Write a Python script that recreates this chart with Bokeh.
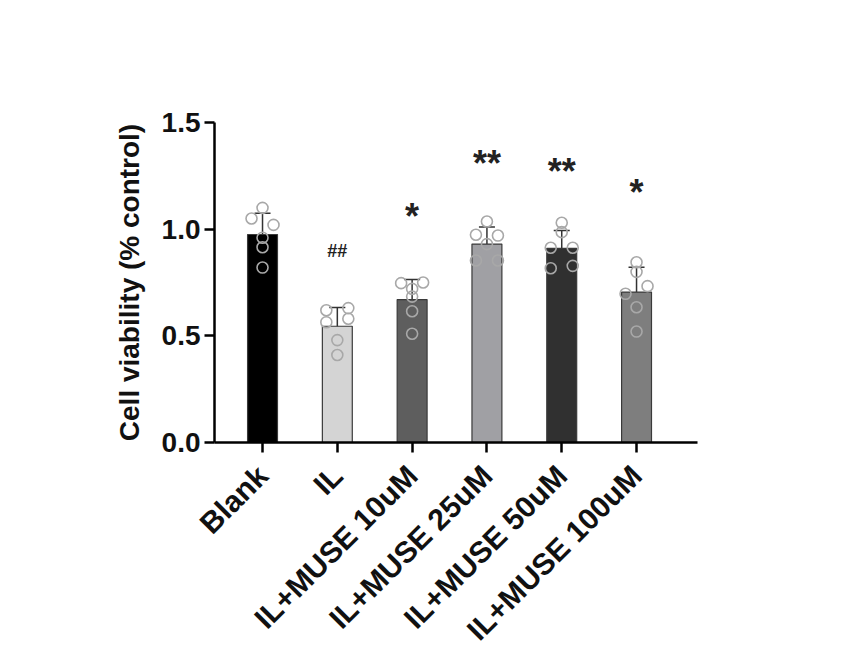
import math
from bokeh.plotting import figure
from bokeh.models import (ColumnDataSource, FixedTicker, Range1d, Whisker, TeeHead)
from bokeh.core.properties import value
from bokeh.embed import file_html
from bokeh.resources import INLINE

categories = ["Blank", "IL", "IL+MUSE 10uM", "IL+MUSE 25uM", "IL+MUSE 50uM", "IL+MUSE 100uM"]
means = [0.975, 0.545, 0.670, 0.930, 0.910, 0.705]
sd_upper = [1.075, 0.633, 0.764, 1.010, 0.994, 0.822]
sd_lower = [0.875, 0.460, 0.572, 0.858, 0.830, 0.587]
points = [
    [1.05, 1.10, 1.02, 0.96, 0.915, 0.82],
    [0.62, 0.63, 0.564, 0.58, 0.48, 0.41],
    [0.747, 0.75, 0.72, 0.684, 0.615, 0.51],
    [1.036, 0.974, 0.97, 0.93, 0.853, 0.853],
    [1.03, 0.986, 0.913, 0.913, 0.817, 0.828],
    [0.845, 0.80, 0.733, 0.697, 0.634, 0.52],
]
sig_labels = ["", "##", "*", "**", "**", "*"]
sig_heights = [None, 0.90, 1.06, 1.31, 1.27, 1.17]
y_ticks = [0.0, 0.5, 1.0, 1.5]
y_label = "Cell viability (% control)"

# styles / layout
bar_colors = ["#000000", "#d4d4d4", "#5e5e5e", "#a0a0a4", "#303030", "#7e7e7e"]
jitter = [
    [-1, 0, 1, 0, 0, 0],
    [-1, 1, -1, 1, 0, 0],
    [-1, 1, 0, 0, 0, 0],
    [0, -1, 1, 0, -1, 1],
    [0, 0, -1, 1, -1, 1],
    [0, 0, 1, -1, 0, 0],
]
jit_step = 0.147
FONT = "Liberation Sans"

xs = list(range(len(categories)))

p = figure(width=857, height=662, output_backend="svg", toolbar_location=None,
           x_range=Range1d(-0.642, 5.815), y_range=Range1d(0, 1.5),
           min_border_left=214, min_border_top=122, min_border_right=160,
           min_border_bottom=220)
p.background_fill_color = "white"
p.border_fill_color = "white"
p.outline_line_color = None
p.xgrid.visible = False
p.ygrid.visible = False

bars = ColumnDataSource(dict(x=xs, top=means, color=bar_colors,
                             upper=sd_upper, lower=sd_lower))
p.vbar(x="x", top="top", bottom=0, width=0.40, source=bars,
       fill_color="color", line_color="#3a3a3a", line_width=1.2)

wh = Whisker(base="x", upper="upper", lower="lower", source=bars,
             line_color="#333333", line_width=1.5,
             upper_head=TeeHead(size=16, line_color="#333333", line_width=1.5),
             lower_head=TeeHead(size=16, line_color="#333333", line_width=1.5))
p.add_layout(wh)

px, py = [], []
for i, vals in enumerate(points):
    for j, v in enumerate(vals):
        px.append(xs[i] + jitter[i][j] * jit_step)
        py.append(v)
p.scatter(px, py, marker="circle", size=11, fill_color=None,
          line_color="#a8a8a8", line_width=1.6)

tx, ty, tt, tsz = [], [], [], []
for i, (s, h) in enumerate(zip(sig_labels, sig_heights)):
    if s:
        tx.append(xs[i]); ty.append(h); tt.append(s)
        tsz.append("18px" if s.startswith("#") else "36px")
src_t = ColumnDataSource(dict(x=tx, y=ty, text=tt, size=tsz))
p.text(x="x", y="y", text="text", text_font_size="size", source=src_t,
       text_align="center", text_baseline="middle",
       text_font=value(FONT), text_font_style="bold", text_color="#222222")

# axes
p.xaxis.ticker = FixedTicker(ticks=xs)
p.xaxis.major_label_overrides = {i: c for i, c in enumerate(categories)}
p.xaxis.major_label_orientation = math.pi / 4
p.xaxis.minor_tick_line_color = None
p.yaxis.ticker = FixedTicker(ticks=y_ticks)
p.yaxis.major_label_overrides = {t: f"{t:.1f}" for t in y_ticks}
p.yaxis.minor_tick_line_color = None
for ax in (p.xaxis, p.yaxis):
    ax.axis_line_width = 2.5
    ax.axis_line_color = "black"
    ax.major_tick_line_width = 2.5
    ax.major_tick_line_color = "black"
    ax.major_tick_out = 10
    ax.major_tick_in = 0
    ax.major_label_text_font = FONT
    ax.major_label_text_font_style = "bold"
    ax.major_label_text_font_size = "28px"
    ax.major_label_text_color = "#111111"
    ax.major_label_standoff = 4
p.xaxis.major_label_standoff = 18
p.xaxis.major_label_text_font_size = "30px"

p.yaxis.axis_label = y_label
p.yaxis.axis_label_text_font = FONT
p.yaxis.axis_label_text_font_style = "bold"
p.yaxis.axis_label_text_font_size = "28px"
p.yaxis.axis_label_text_color = "#111111"
p.yaxis.axis_label_standoff = 14

open("out.html", "w").write(file_html(p, INLINE))
